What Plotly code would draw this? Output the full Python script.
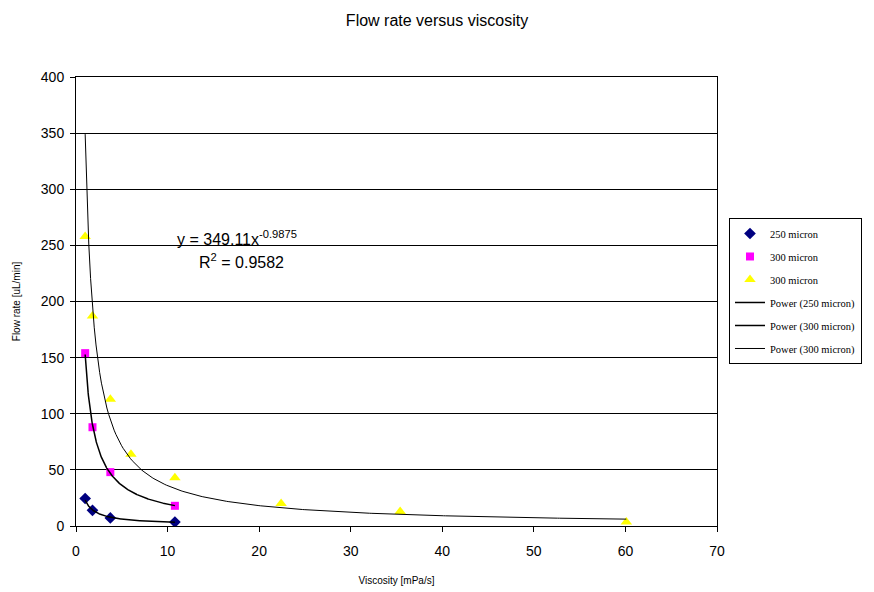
import numpy as np
import plotly.graph_objects as go

# Measured viscosity [mPa/s] and flow rate [uL/min]
visc_250 = [1.0, 1.8, 3.75, 10.8]
flow_250 = [24.5, 14.0, 7.2, 3.5]

visc_300a = [1.0, 1.8, 3.75, 10.8]
flow_300a = [154, 88, 48, 18]

visc_300b = [1.0, 1.8, 3.75, 6.0, 10.8, 22.4, 35.4, 60.1]
flow_300b = [258, 187, 113, 64, 43, 20, 13, 3.5]

# Published power-law fit for the second 300 micron series
fit_a, fit_b = 349.11, -0.9875
fit_r2 = 0.9582


def power_fit(x, y):
    b, ln_a = np.polyfit(np.log(x), np.log(y), 1)
    return np.exp(ln_a), b


def curve(x, a, b):
    xs = np.linspace(min(x), max(x), 300)
    return xs, a * xs ** b


a250, b250 = power_fit(visc_250, flow_250)
a300, b300 = power_fit(visc_300a, flow_300a)

fig = go.Figure()

fig.add_trace(go.Scatter(x=visc_250, y=flow_250, mode="markers", name="250 micron",
                         legendgroup="g1",
                         marker=dict(symbol="diamond", color="#000080", size=9)))
fig.add_trace(go.Scatter(x=visc_300a, y=flow_300a, mode="markers", name="300 micron",
                         legendgroup="g2",
                         marker=dict(symbol="square", color="#FF00FF", size=8)))
fig.add_trace(go.Scatter(x=visc_300b, y=flow_300b, mode="markers", name="300 micron",
                         legendgroup="g3",
                         marker=dict(symbol="triangle-up", color="#FFFF00", size=10)))

xs, ys = curve(visc_250, a250, b250)
fig.add_trace(go.Scatter(x=xs, y=ys, mode="lines", name="Power (250 micron)",
                         legendgroup="g4", line=dict(color="black", width=1.5)))
xs, ys = curve(visc_300a, a300, b300)
fig.add_trace(go.Scatter(x=xs, y=ys, mode="lines", name="Power (300 micron)",
                         legendgroup="g5", line=dict(color="black", width=1.5)))
xs, ys = curve(visc_300b, fit_a, fit_b)
fig.add_trace(go.Scatter(x=xs, y=ys, mode="lines", name="Power (300 micron)",
                         legendgroup="g6", line=dict(color="black", width=1)))

fig.add_annotation(x=10.8, y=257, xref="x", yref="y", showarrow=False,
                   xanchor="left", yanchor="middle",
                   text=f"y = {fit_a}x<sup>{fit_b}</sup>",
                   font=dict(family="Liberation Sans, Arial", size=16, color="black"))
fig.add_annotation(x=13.2, y=236, xref="x", yref="y", showarrow=False,
                   xanchor="left", yanchor="middle",
                   text=f"R<sup>2</sup> = {fit_r2}",
                   font=dict(family="Liberation Sans, Arial", size=16, color="black"))

fig.update_layout(
    width=874, height=592,
    margin=dict(l=76, r=155, t=77, b=66),
    paper_bgcolor="white", plot_bgcolor="white",
    font=dict(family="Liberation Sans, Arial", color="black"),
    title=dict(text="Flow rate versus viscosity", x=0.5, xanchor="center",
               y=1 - 20 / 592, yanchor="middle",
               font=dict(size=16, color="black")),
    legend=dict(x=1.0187, y=0.686, xanchor="left", yanchor="top",
                bordercolor="black", borderwidth=1, bgcolor="white",
                font=dict(family="Liberation Serif, Times New Roman", size=10.5, color="black"),
                traceorder="grouped", tracegroupgap=4),
    showlegend=True,
)

fig.update_xaxes(range=[0, 70], dtick=10, showgrid=False, zeroline=False,
                 showline=True, linecolor="black", linewidth=1, mirror=True,
                 ticks="outside", ticklen=5, tickcolor="black",
                 tickfont=dict(size=14), ticklabelstandoff=7, automargin=False,
                 title=dict(text="Viscosity [mPa/s]", font=dict(size=10), standoff=19))
fig.update_yaxes(range=[0, 400], dtick=50, showgrid=True, gridcolor="black", gridwidth=1,
                 zeroline=False, showline=True, linecolor="black", linewidth=1, mirror=True,
                 ticks="outside", ticklen=5, tickcolor="black",
                 tickfont=dict(size=14), ticklabelstandoff=3, automargin=False,
                 title=dict(text="Flow rate [uL/min]", font=dict(size=10), standoff=18))

fig.write_html("out.html")
